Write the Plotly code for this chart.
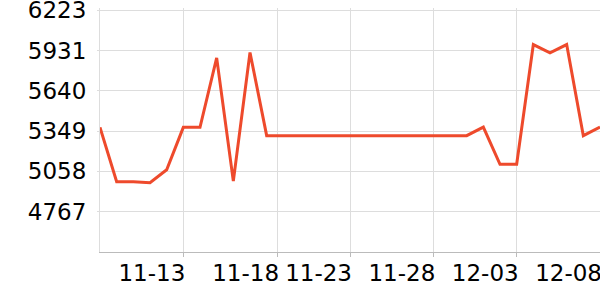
import plotly.graph_objects as go
import pandas as pd

dates = pd.date_range("2023-11-08", "2023-12-08", freq="D")
values = [5376, 4983, 4983, 4976, 5070, 5376, 5376, 5878, 4988, 5917,
          5316, 5316, 5316, 5316, 5316, 5316, 5316, 5316, 5316, 5316,
          5316, 5316, 5316, 5378, 5109, 5109, 5974, 5914, 5974, 5316, 5378]

y_ticks = [4767, 5058, 5349, 5640, 5931, 6223]
y_ticktext = ["4767", "5058", "5349", "5640", "5931", "6223"]
x_ticks = ["2023-11-13", "2023-11-18 15:00", "2023-11-23", "2023-11-28", "2023-12-03", "2023-12-08"]
x_ticktext = ["11-13", "11-18", "11-23", "11-28", "12-03", "12-08"]
y_min, y_max = 4475.8, 6237.9

fig = go.Figure(go.Scatter(x=dates, y=values, mode="lines",
                           line=dict(color="#EE4A2C", width=3)))

fig.update_layout(
    width=600, height=300,
    margin=dict(l=100, r=0, t=8, b=48, autoexpand=False),
    plot_bgcolor="white", paper_bgcolor="white",
    showlegend=False,
    font=dict(family="DejaVu Sans", size=23, color="#000"),
)
fig.update_xaxes(
    type="date", range=[dates[0], dates[-1]],
    tickmode="array", tickvals=x_ticks, ticktext=x_ticktext,
    tickangle=0, automargin=False,
    ticklabelposition="outside left",
    ticklabelshift=3,
    ticklabeloverflow="allow",
    showgrid=True, gridcolor="#dddddd", gridwidth=1,
    showline=True, linecolor="#bbbbbb", linewidth=1,
    ticks="outside", ticklen=4, tickcolor="#bbbbbb",
    zeroline=False,
)
fig.update_yaxes(
    range=[y_min, y_max], automargin=False,
    tickmode="array", tickvals=y_ticks, ticktext=y_ticktext,
    ticklabeloverflow="allow",
    showgrid=True, gridcolor="#dddddd", gridwidth=1,
    showline=True, linecolor="#dddddd", linewidth=1,
    ticks="outside", ticklen=2, tickcolor="#dddddd",
    ticklabelstandoff=6,
    zeroline=False,
)

fig.write_html("out.html")
